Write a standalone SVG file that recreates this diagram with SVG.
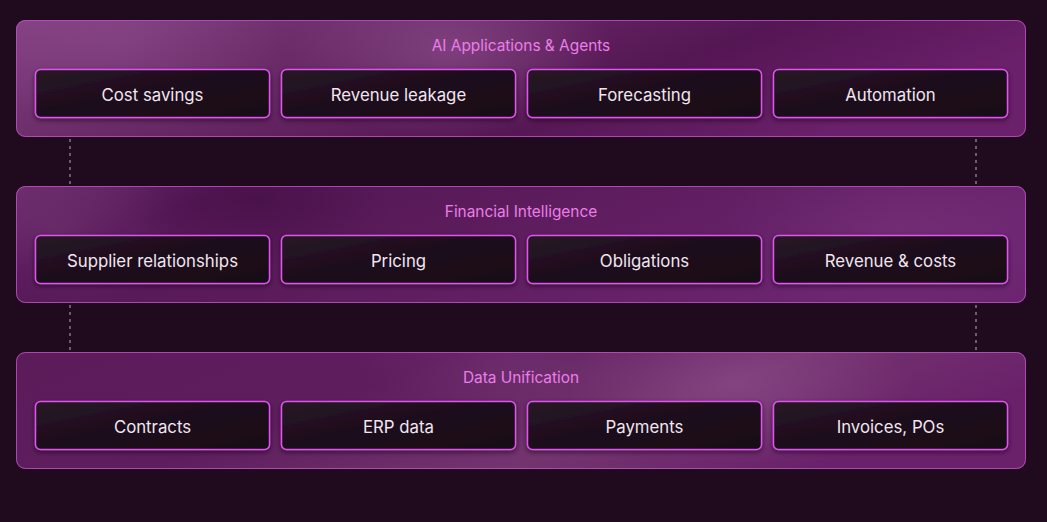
<svg xmlns="http://www.w3.org/2000/svg" width="1047" height="522" viewBox="0 0 1047 522">
<defs>
<style>
.layer{stroke:#b850c0;stroke-width:1;stroke-opacity:0.85}
.card{fill:url(#cardG);stroke:#e052ee;stroke-width:1.5}
.lbl{font-family:Inter,"Noto Sans",sans-serif;font-size:16.8px;font-weight:400;fill:#f1e6ef;text-anchor:middle;dominant-baseline:central}
.ttl{font-family:Inter,"Noto Sans",sans-serif;font-size:15.4px;fill:#ea7ee8;text-anchor:middle;dominant-baseline:central}
.dot{stroke:#6e5a6c;stroke-width:2;stroke-dasharray:3 4}
</style>
<linearGradient id="cardG" x1="0" y1="0" x2="1" y2="1">
<stop offset="0" stop-color="#271726"/>
<stop offset="0.6" stop-color="#1c0a1a"/>
<stop offset="1" stop-color="#180716"/>
</linearGradient>
<linearGradient id="g1" x1="0" y1="0" x2="1" y2="0.3">
<stop offset="0" stop-color="#823f81"/>
<stop offset="0.3" stop-color="#6c2d6a"/>
<stop offset="0.55" stop-color="#5e1f5c"/>
<stop offset="0.7" stop-color="#551654"/>
<stop offset="1" stop-color="#6a206a"/>
</linearGradient>
<linearGradient id="g2" x1="0" y1="0" x2="1" y2="0.3">
<stop offset="0" stop-color="#6a2a69"/>
<stop offset="0.2" stop-color="#561858"/>
<stop offset="0.5" stop-color="#5c1c5c"/>
<stop offset="1" stop-color="#6c2470"/>
</linearGradient>
<linearGradient id="g3" x1="0" y1="0" x2="1" y2="0.3">
<stop offset="0" stop-color="#5c1c5a"/>
<stop offset="0.4" stop-color="#5e1e5e"/>
<stop offset="0.72" stop-color="#73346f"/>
<stop offset="1" stop-color="#6a216a"/>
</linearGradient>
<radialGradient id="hl" cx="0.5" cy="0.5" r="0.5">
<stop offset="0" stop-color="#a060a0" stop-opacity="0.45"/>
<stop offset="1" stop-color="#a060a0" stop-opacity="0"/>
</radialGradient>
<radialGradient id="dk" cx="0.5" cy="0.5" r="0.5">
<stop offset="0" stop-color="#3a0a3a" stop-opacity="0.45"/>
<stop offset="1" stop-color="#3a0a3a" stop-opacity="0"/>
</radialGradient>
<filter id="sh" x="-10%" y="-20%" width="120%" height="150%">
<feDropShadow dx="0" dy="2" stdDeviation="2.5" flood-color="#120010" flood-opacity="0.55"/>
</filter>
<clipPath id="c1"><rect x="16" y="20" width="1010" height="117" rx="9"/></clipPath>
<clipPath id="c2"><rect x="16" y="186" width="1010" height="117" rx="9"/></clipPath>
<clipPath id="c3"><rect x="16" y="352" width="1010" height="117" rx="9"/></clipPath>
</defs>
<rect width="1047" height="522" fill="#1f0a1e"/>
<g id="connectors">
<line class="dot" x1="70" y1="139" x2="70" y2="186"/>
<line class="dot" x1="976" y1="139" x2="976" y2="186"/>
<line class="dot" x1="70" y1="305" x2="70" y2="352"/>
<line class="dot" x1="976" y1="305" x2="976" y2="352"/>
</g>
<g id="layer-ai">
<rect x="16" y="20" width="1010" height="117" rx="9" fill="url(#g1)"/>
<g clip-path="url(#c1)">
<ellipse cx="450" cy="50" rx="160" ry="90" fill="url(#hl)"/>
<ellipse cx="120" cy="40" rx="160" ry="90" fill="url(#hl)" opacity="0.6"/>
</g>
<rect class="layer" x="16.5" y="20.5" width="1009" height="116" rx="9" fill="none"/>
<text class="ttl" x="521" y="45.5">AI Applications &amp; Agents</text>
<g id="n-cost"><rect class="card" x="35.5" y="69.5" width="234" height="48" rx="5" filter="url(#sh)"/><text class="lbl" x="152.5" y="95">Cost savings</text></g>
<g id="n-revleak"><rect class="card" x="281.5" y="69.5" width="234" height="48" rx="5" filter="url(#sh)"/><text class="lbl" x="398.5" y="95">Revenue leakage</text></g>
<g id="n-forecast"><rect class="card" x="527.5" y="69.5" width="234" height="48" rx="5" filter="url(#sh)"/><text class="lbl" x="644.5" y="95">Forecasting</text></g>
<g id="n-auto"><rect class="card" x="773.5" y="69.5" width="234" height="48" rx="5" filter="url(#sh)"/><text class="lbl" x="890.5" y="95">Automation</text></g>
</g>
<g id="layer-fin">
<rect x="16" y="186" width="1010" height="117" rx="9" fill="url(#g2)"/>
<g clip-path="url(#c2)">
<ellipse cx="260" cy="200" rx="140" ry="60" fill="url(#dk)"/>
<ellipse cx="60" cy="230" rx="120" ry="80" fill="url(#hl)" opacity="0.4"/>
<ellipse cx="900" cy="230" rx="180" ry="90" fill="url(#hl)" opacity="0.35"/>
</g>
<rect class="layer" x="16.5" y="186.5" width="1009" height="116" rx="9" fill="none"/>
<text class="ttl" x="521" y="211.5">Financial Intelligence</text>
<g id="n-supplier"><rect class="card" x="35.5" y="235.5" width="234" height="48" rx="5" filter="url(#sh)"/><text class="lbl" x="152.5" y="261">Supplier relationships</text></g>
<g id="n-pricing"><rect class="card" x="281.5" y="235.5" width="234" height="48" rx="5" filter="url(#sh)"/><text class="lbl" x="398.5" y="261">Pricing</text></g>
<g id="n-oblig"><rect class="card" x="527.5" y="235.5" width="234" height="48" rx="5" filter="url(#sh)"/><text class="lbl" x="644.5" y="261">Obligations</text></g>
<g id="n-revcost"><rect class="card" x="773.5" y="235.5" width="234" height="48" rx="5" filter="url(#sh)"/><text class="lbl" x="890.5" y="261">Revenue &amp; costs</text></g>
</g>
<g id="layer-data">
<rect x="16" y="352" width="1010" height="117" rx="9" fill="url(#g3)"/>
<g clip-path="url(#c3)">
<ellipse cx="740" cy="385" rx="170" ry="80" fill="url(#hl)" opacity="0.8"/>
<ellipse cx="500" cy="360" rx="150" ry="50" fill="url(#hl)" opacity="0.35"/>
</g>
<rect class="layer" x="16.5" y="352.5" width="1009" height="116" rx="9" fill="none"/>
<text class="ttl" x="521" y="377.5">Data Unification</text>
<g id="n-contracts"><rect class="card" x="35.5" y="401.5" width="234" height="48" rx="5" filter="url(#sh)"/><text class="lbl" x="152.5" y="427">Contracts</text></g>
<g id="n-erp"><rect class="card" x="281.5" y="401.5" width="234" height="48" rx="5" filter="url(#sh)"/><text class="lbl" x="398.5" y="427">ERP data</text></g>
<g id="n-payments"><rect class="card" x="527.5" y="401.5" width="234" height="48" rx="5" filter="url(#sh)"/><text class="lbl" x="644.5" y="427">Payments</text></g>
<g id="n-invoices"><rect class="card" x="773.5" y="401.5" width="234" height="48" rx="5" filter="url(#sh)"/><text class="lbl" x="890.5" y="427">Invoices, POs</text></g>
</g>
</svg>
